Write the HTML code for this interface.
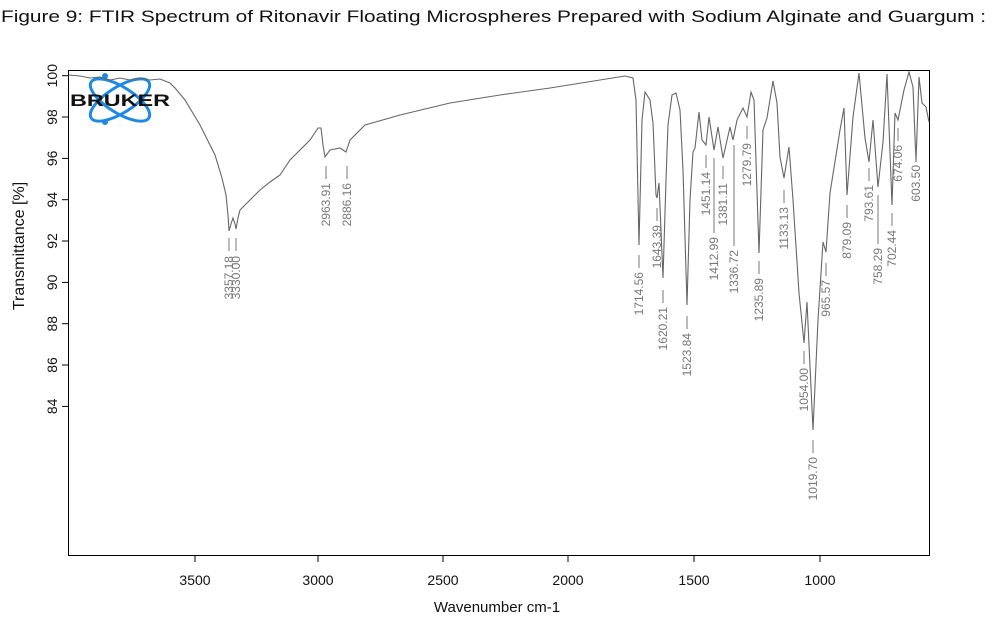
<!DOCTYPE html>
<html><head><meta charset="utf-8"><style>
html,body{margin:0;padding:0;background:#fff;width:1002px;height:627px;overflow:hidden}
svg{display:block}
</style></head><body>
<svg width="1002" height="627" viewBox="0 0 1002 627" xmlns="http://www.w3.org/2000/svg" font-family="Liberation Sans, sans-serif">
<rect width="1002" height="627" fill="#fff"/>
<text x="1" y="22" font-size="17" fill="#111" textLength="985" lengthAdjust="spacingAndGlyphs">Figure 9: FTIR Spectrum of Ritonavir Floating Microspheres Prepared with  Sodium Alginate  and Guargum :</text>
<rect x="68.5" y="70.5" width="861" height="485" fill="none" stroke="#000" stroke-width="1"/>
<g stroke="#000" stroke-width="1">
<line x1="62" y1="75.7" x2="68" y2="75.7"/><line x1="62" y1="117" x2="68" y2="117"/><line x1="62" y1="158.4" x2="68" y2="158.4"/><line x1="62" y1="199.7" x2="68" y2="199.7"/><line x1="62" y1="241" x2="68" y2="241"/><line x1="62" y1="282.4" x2="68" y2="282.4"/><line x1="62" y1="323.7" x2="68" y2="323.7"/><line x1="62" y1="365" x2="68" y2="365"/><line x1="62" y1="406.4" x2="68" y2="406.4"/>
<line x1="195" y1="556" x2="195" y2="562"/><line x1="318" y1="556" x2="318" y2="562"/><line x1="443" y1="556" x2="443" y2="562"/><line x1="568" y1="556" x2="568" y2="562"/><line x1="694" y1="556" x2="694" y2="562"/><line x1="820" y1="556" x2="820" y2="562"/>
</g>
<g font-size="14" fill="#111" text-anchor="middle">
<text transform="translate(57,75.7) rotate(-90)">100</text>
<text transform="translate(57,117) rotate(-90)">98</text>
<text transform="translate(57,158.4) rotate(-90)">96</text>
<text transform="translate(57,199.7) rotate(-90)">94</text>
<text transform="translate(57,241) rotate(-90)">92</text>
<text transform="translate(57,282.4) rotate(-90)">90</text>
<text transform="translate(57,323.7) rotate(-90)">88</text>
<text transform="translate(57,365) rotate(-90)">86</text>
<text transform="translate(57,406.4) rotate(-90)">84</text>
<text x="195" y="585">3500</text><text x="318" y="585">3000</text><text x="443" y="585">2500</text><text x="568" y="585">2000</text><text x="694" y="585">1500</text><text x="820" y="585">1000</text>
<text x="497" y="612" font-size="15">Wavenumber cm-1</text>
<text transform="translate(24,246) rotate(-90)" font-size="16">Transmittance [%]</text>
</g>
<g fill="none" stroke="#1e88e5" stroke-width="3">
<ellipse cx="120" cy="100" rx="34" ry="13" transform="rotate(32 120 100)"/>
<ellipse cx="120" cy="100" rx="34" ry="13" transform="rotate(-32 120 100)"/>
</g>
<circle cx="105" cy="76" r="3" fill="#1e88e5"/><circle cx="105" cy="122" r="3" fill="#1e88e5"/>
<polyline fill="none" stroke="#666" stroke-width="1.1" points="69,75 80,76 90,78 100,77 110,80 120,78 130,80 140,78 150,80 160,79 170,83 175,88 185,100 200,125 215,155 222,178 226,195 228,215 229,231 231,224 233,218 235,224 236,229 238,218 240,210 250,200 260,190 270,182 280,175 290,160 295,155 300,150 310,140 318,128 321,128 323,145 325,157 330,150 340,148 343,150 346,152 350,140 365,125 400,115 450,103 500,95 550,88 600,80 625,76 633,78 636,100 639,245 642,120 645,92 650,100 653,123 656,195 657,198 659,183 663,278 666,180 668,125 672,95 676,93 680,110 683,170 687,305 690,200 693,152 695,148 699,112 702,140 706,145 709,117 714,150 718,127 723,158 730,127 733,140 737,120 743,108 747,117 751,92 754,100 759,253 763,130 767,118 773,81 777,103 780,157 784,178 789,147 793,200 799,293 804,343 807,302 813,430 818,320 823,242 826,252 830,193 840,130 844,108 847,195 853,117 859,73 865,138 869,162 873,120 878,187 883,142 887,74 892,205 895,113 898,120 904,90 909,72 913,87 916,162 919,77 922,103 926,107 929,122"/>
<text x="70" y="106" font-size="17" font-weight="bold" fill="#111" textLength="100" lengthAdjust="spacingAndGlyphs">BRUKER</text>
<g font-size="12" fill="#777" stroke="#777" stroke-width="1">
<g stroke="#777">
<line x1="229" y1="238" x2="229" y2="251"/><line x1="236" y1="238" x2="236" y2="251"/>
<line x1="326" y1="166" x2="326" y2="179"/><line x1="347" y1="166" x2="347" y2="179"/>
<line x1="639" y1="255" x2="639" y2="268"/><line x1="657" y1="208" x2="657" y2="221"/><line x1="663" y1="290" x2="663" y2="303"/><line x1="687" y1="316" x2="687" y2="329"/>
<line x1="706" y1="155" x2="706" y2="168"/><line x1="714" y1="158" x2="714" y2="233"/><line x1="723" y1="166" x2="723" y2="179"/><line x1="734" y1="145" x2="734" y2="246"/>
<line x1="747" y1="126" x2="747" y2="139"/><line x1="759" y1="261" x2="759" y2="274"/><line x1="784" y1="190" x2="784" y2="203"/><line x1="804" y1="351" x2="804" y2="364"/>
<line x1="813" y1="440" x2="813" y2="453"/><line x1="826" y1="263" x2="826" y2="276"/><line x1="847" y1="205" x2="847" y2="218"/><line x1="869" y1="168" x2="869" y2="181"/>
<line x1="878" y1="195" x2="878" y2="244"/><line x1="892" y1="213" x2="892" y2="226"/><line x1="898" y1="128" x2="898" y2="141"/><line x1="916" y1="148" x2="916" y2="161"/>
</g>
<g stroke="none" text-anchor="end">
<text transform="translate(233,256) rotate(-90)">3357.18</text>
<text transform="translate(240,256) rotate(-90)">3330.00</text>
<text transform="translate(330,183) rotate(-90)">2963.91</text>
<text transform="translate(351,183) rotate(-90)">2886.16</text>
<text transform="translate(643,272) rotate(-90)">1714.56</text>
<text transform="translate(661,225) rotate(-90)">1643.39</text>
<text transform="translate(667,307) rotate(-90)">1620.21</text>
<text transform="translate(691,333) rotate(-90)">1523.84</text>
<text transform="translate(710,172) rotate(-90)">1451.14</text>
<text transform="translate(718,237) rotate(-90)">1412.99</text>
<text transform="translate(727,183) rotate(-90)">1381.11</text>
<text transform="translate(738,250) rotate(-90)">1336.72</text>
<text transform="translate(751,143) rotate(-90)">1279.79</text>
<text transform="translate(763,278) rotate(-90)">1235.89</text>
<text transform="translate(788,207) rotate(-90)">1133.13</text>
<text transform="translate(808,368) rotate(-90)">1054.00</text>
<text transform="translate(817,457) rotate(-90)">1019.70</text>
<text transform="translate(830,280) rotate(-90)">965.57</text>
<text transform="translate(851,222) rotate(-90)">879.09</text>
<text transform="translate(873,185) rotate(-90)">793.61</text>
<text transform="translate(882,248) rotate(-90)">758.29</text>
<text transform="translate(896,230) rotate(-90)">702.44</text>
<text transform="translate(902,145) rotate(-90)">674.06</text>
<text transform="translate(920,165) rotate(-90)">603.50</text>
</g>
</g>
</svg>
</body></html>
